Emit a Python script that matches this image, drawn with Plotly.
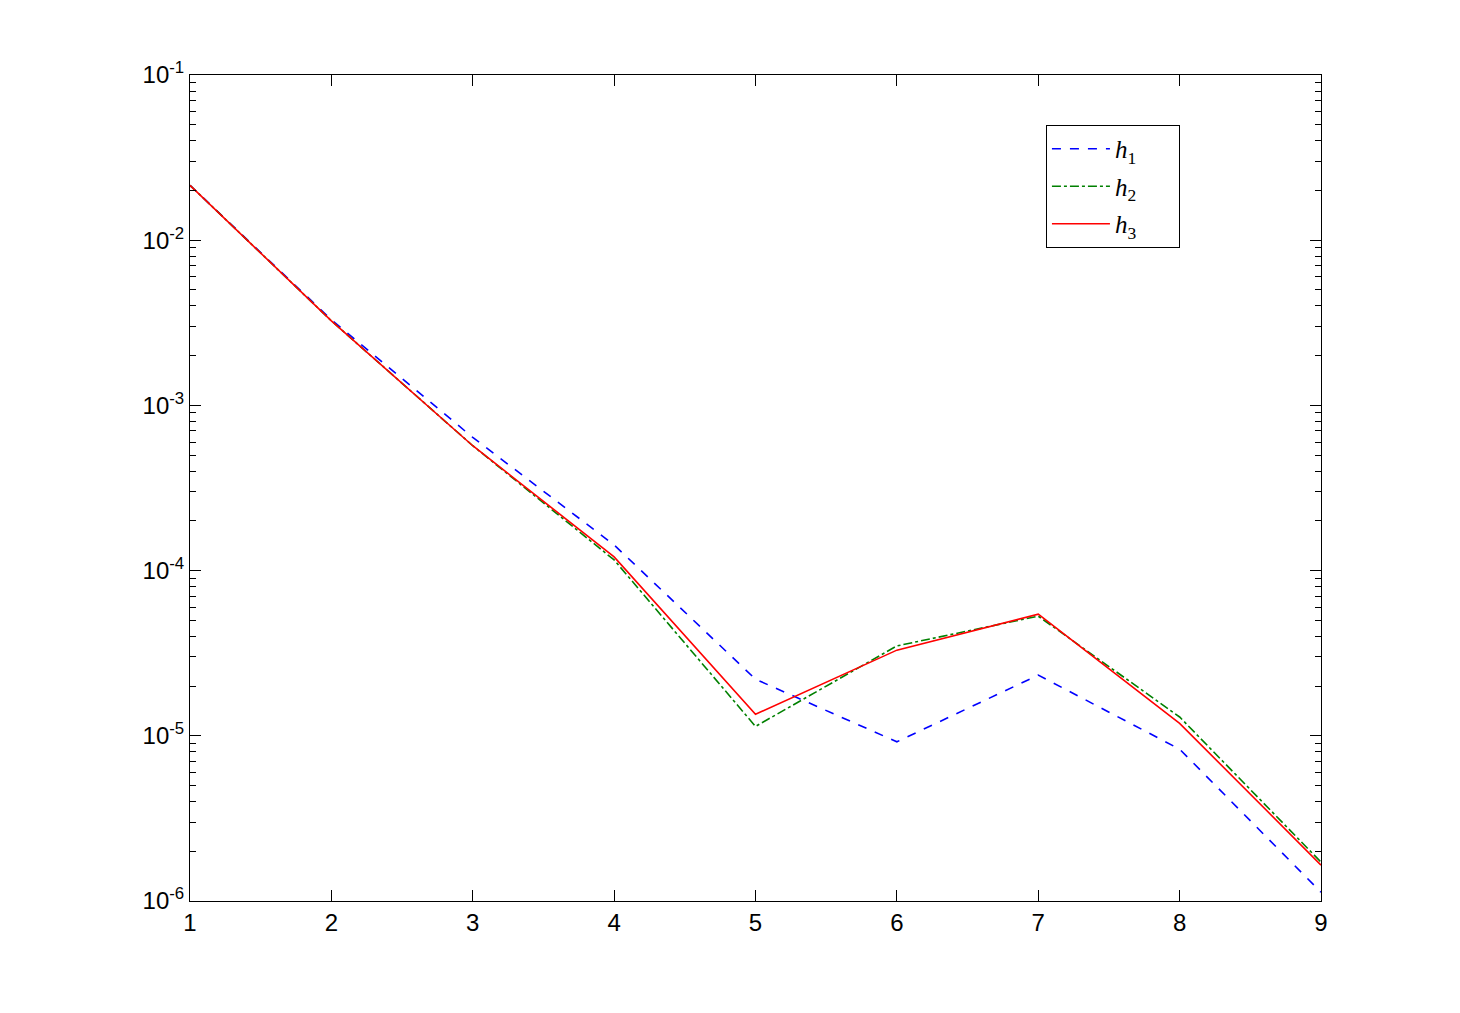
import plotly.graph_objects as go

x = [1, 2, 3, 4, 5, 6, 7, 8, 9]
h1 = [2.15e-2, 3.3e-3, 6.4e-4, 1.43e-4, 2.2e-5, 9.2e-6, 2.33e-5, 8.3e-6, 1.13e-6]
h2 = [2.15e-2, 3.25e-3, 5.7e-4, 1.16e-4, 1.14e-5, 3.5e-5, 5.3e-5, 1.3e-5, 1.72e-6]
h3 = [2.15e-2, 3.25e-3, 5.7e-4, 1.21e-4, 1.35e-5, 3.3e-5, 5.45e-5, 1.19e-5, 1.65e-6]
names = ["<i>h</i><sub>1</sub>", "<i>h</i><sub>2</sub>", "<i>h</i><sub>3</sub>"]
y_exps = [-6, -5, -4, -3, -2, -1]

fig = go.Figure()
styles = [("#0000ff", "dash"), ("#008000", "dashdot"), ("#ff0000", "solid")]
pad = "&nbsp;" * 6
for i, (ys, nm) in enumerate(zip([h1, h2, h3], names)):
    c, d = styles[i]
    fig.add_trace(go.Scatter(x=x, y=ys, mode="lines", name=nm + pad,
                             legendgroup=str(i),
                             line=dict(color=c, dash=d, width=1.6)))

major = [10.0 ** e for e in y_exps]
minor = [m * 10.0 ** e for e in y_exps[:-1] for m in range(2, 10)]

fig.update_layout(
    width=1460, height=1013,
    margin=dict(l=182, r=147, t=67, b=120),
    paper_bgcolor="white", plot_bgcolor="white",
    font=dict(family="Liberation Sans, Arial, sans-serif", size=24, color="black"),
    legend=dict(x=0.7568, y=0.9395, xanchor="left", yanchor="top",
                bordercolor="black", borderwidth=1, bgcolor="white",
                font=dict(family="Liberation Serif, Times New Roman, serif", size=25),
                tracegroupgap=2, itemwidth=58),
    showlegend=True,
)
fig.update_xaxes(range=[1, 9], tickvals=x, ticktext=[str(v) for v in x],
                 ticks="inside", ticklen=11, tickcolor="black",
                 showline=True, linecolor="black", linewidth=1, mirror="ticks",
                 showgrid=False, zeroline=False)
fig.update_yaxes(type="log", range=[-6, -1], tickvals=major,
                 ticktext=["10<sup>%d</sup>" % e for e in y_exps],
                 ticks="inside", ticklen=11, tickcolor="black",
                 minor=dict(tickvals=minor, ticks="inside", ticklen=6, tickcolor="black", showgrid=False),
                 showline=True, linecolor="black", linewidth=1, mirror="ticks",
                 showgrid=False, zeroline=False)

fig.write_html("out.html")
